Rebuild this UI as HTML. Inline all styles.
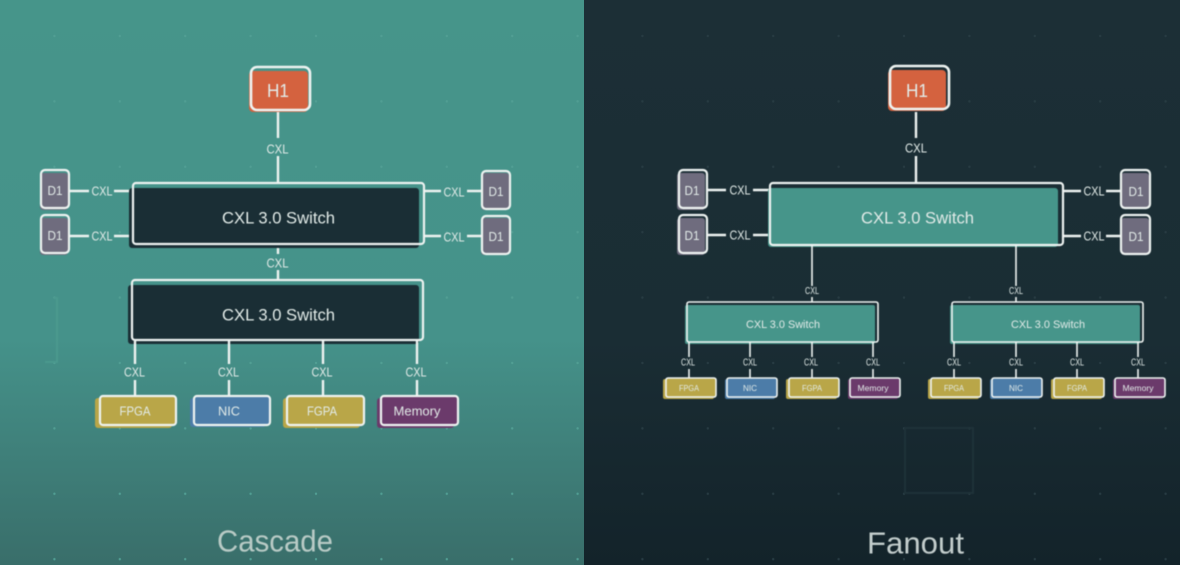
<!DOCTYPE html>
<html><head><meta charset="utf-8"><style>
html,body{margin:0;padding:0;width:1180px;height:565px;overflow:hidden;background:#1b2e35}
svg{display:block}
g.b{filter:blur(.45px)}
text{font-family:"Liberation Sans",sans-serif;fill:#e2ebe8;text-anchor:middle;dominant-baseline:central}
.o{fill:none;stroke:#eef3f1;stroke-width:2.2}
.l{stroke:#eef3f1;stroke-width:2.4;fill:none}
.s{stroke:#eef3f1;stroke-width:1.6;fill:none}
.c{font-size:13px}.m{font-size:10px}
</style></head><body>
<svg width="1180" height="565" viewBox="0 0 1180 565" xmlns="http://www.w3.org/2000/svg">
<defs>
<linearGradient id="gl" x1="0" y1="0" x2="0" y2="1"><stop offset="0" stop-color="#46958a"/><stop offset=".6" stop-color="#45928a"/><stop offset="1" stop-color="#396e6a"/></linearGradient>
<linearGradient id="gr" x1="0" y1="0" x2="0" y2="1"><stop offset="0" stop-color="#1c2f36"/><stop offset=".6" stop-color="#1a2d34"/><stop offset="1" stop-color="#13232a"/></linearGradient>
<pattern id="dl" width="65.4" height="65.4" patternUnits="userSpaceOnUse" x="-11" y="36"><circle cx="0" cy="0" r="1.2" fill="#519e93"/><circle cx="65.4" cy="0" r="1.2" fill="#519e93"/><circle cx="0" cy="65.4" r="1.2" fill="#519e93"/><circle cx="65.4" cy="65.4" r="1.2" fill="#519e93"/></pattern>
<pattern id="dr" width="65.4" height="65.4" patternUnits="userSpaceOnUse" x="577" y="36"><circle cx="0" cy="0" r="1.2" fill="#273b42"/><circle cx="65.4" cy="0" r="1.2" fill="#273b42"/><circle cx="0" cy="65.4" r="1.2" fill="#273b42"/><circle cx="65.4" cy="65.4" r="1.2" fill="#273b42"/></pattern>
</defs>
<rect x="0" y="0" width="584" height="565" fill="url(#gl)"/>
<rect x="584" y="0" width="596" height="565" fill="url(#gr)"/>
<rect x="0" y="0" width="584" height="565" fill="url(#dl)"/>
<rect x="584" y="0" width="596" height="565" fill="url(#dr)"/>
<g class="b">
<path d="M54 298H57V362H45" fill="none" stroke="#4b998e" stroke-width="2"/>
<path d="M905 428H973V493H905Z" fill="none" stroke="#1f3239" stroke-width="2"/>

<!-- LEFT -->
<rect x="249" y="71" width="59" height="41" rx="4" fill="#d4623f"/>
<rect x="251" y="67" width="59" height="43" rx="6" class="o" style="stroke-width:2.6"/>
<text x="278" y="91" font-size="18" textLength="22" lengthAdjust="spacingAndGlyphs">H1</text>
<path class="l" d="M278 112V138M278 156V183M278 245V254M278 270V280"/>
<text x="277.500" y="149" class="c" textLength="22" lengthAdjust="spacingAndGlyphs">CXL</text>
<text x="277.500" y="263" class="c" textLength="22" lengthAdjust="spacingAndGlyphs">CXL</text>

<rect x="40" y="173" width="28" height="37" rx="3" fill="#6f6c7e"/>
<rect x="41" y="170" width="28" height="38" rx="4" class="o"/>
<text x="55" y="191" font-size="12.500" textLength="15" lengthAdjust="spacingAndGlyphs">D1</text>
<rect x="40" y="218" width="28" height="37" rx="3" fill="#6f6c7e"/>
<rect x="41" y="215" width="28" height="38" rx="4" class="o"/>
<text x="55" y="236" font-size="12.500" textLength="15" lengthAdjust="spacingAndGlyphs">D1</text>
<path class="l" d="M70 191H89M114 191H133M70 236H89M114 236H133"/>
<text x="102" y="191" class="c" textLength="21" lengthAdjust="spacingAndGlyphs">CXL</text>
<text x="102" y="236" class="c" textLength="21" lengthAdjust="spacingAndGlyphs">CXL</text>

<rect x="481" y="173" width="28" height="37" rx="3" fill="#6f6c7e"/>
<rect x="482" y="171" width="28" height="38" rx="4" class="o"/>
<text x="496" y="192" font-size="12.500" textLength="15" lengthAdjust="spacingAndGlyphs">D1</text>
<rect x="481" y="218" width="28" height="37" rx="3" fill="#6f6c7e"/>
<rect x="482" y="216" width="28" height="38" rx="4" class="o"/>
<text x="496" y="237" font-size="12.500" textLength="15" lengthAdjust="spacingAndGlyphs">D1</text>
<path class="l" d="M425 191H441M467 191H481M425 236H441M467 236H481"/>
<text x="454" y="192" class="c" textLength="21" lengthAdjust="spacingAndGlyphs">CXL</text>
<text x="454" y="237" class="c" textLength="21" lengthAdjust="spacingAndGlyphs">CXL</text>

<rect x="129" y="188" width="290" height="60" rx="3" fill="#1a2e35"/>
<rect x="133" y="183" width="291" height="61" rx="3" class="o"/>
<text x="278.500" y="218" font-size="17" textLength="113" lengthAdjust="spacingAndGlyphs">CXL 3.0 Switch</text>

<rect x="128" y="285" width="291" height="59" rx="3" fill="#1a2e35"/>
<rect x="132" y="280" width="291" height="60" rx="3" class="o"/>
<text x="278.500" y="315" font-size="17" textLength="113" lengthAdjust="spacingAndGlyphs">CXL 3.0 Switch</text>

<path class="l" d="M135 341V364M135 380V396M229 341V364M229 380V396M323 341V364M323 380V396M417 341V364M417 380V396"/>
<text x="134.500" y="372" class="c" textLength="21" lengthAdjust="spacingAndGlyphs">CXL</text>
<text x="228.500" y="372" class="c" textLength="21" lengthAdjust="spacingAndGlyphs">CXL</text>
<text x="322" y="372" class="c" textLength="21" lengthAdjust="spacingAndGlyphs">CXL</text>
<text x="416" y="372" class="c" textLength="21" lengthAdjust="spacingAndGlyphs">CXL</text>

<rect x="95" y="398" width="77" height="30" rx="3" fill="#b9a648"/>
<rect x="100" y="396" width="76" height="29" rx="3" fill="#b9a648"/>
<rect x="100" y="396" width="76" height="29" rx="3" class="o"/>
<text x="135" y="411" font-size="13" textLength="31" lengthAdjust="spacingAndGlyphs">FPGA</text>
<rect x="190" y="398" width="76" height="29" rx="3" fill="#4c7ca8"/>
<rect x="194" y="396" width="76" height="29" rx="3" fill="#4c7ca8"/>
<rect x="194" y="396" width="76" height="29" rx="3" class="o"/>
<text x="229" y="411" font-size="13" textLength="22" lengthAdjust="spacingAndGlyphs">NIC</text>
<rect x="283" y="398" width="77" height="30" rx="3" fill="#b9a648"/>
<rect x="287" y="396" width="77" height="29" rx="3" fill="#b9a648"/>
<rect x="287" y="396" width="77" height="29" rx="3" class="o"/>
<text x="322" y="411" font-size="13" textLength="30" lengthAdjust="spacingAndGlyphs">FGPA</text>
<rect x="377" y="398" width="77" height="30" rx="3" fill="#6b3a6b"/>
<rect x="381" y="396" width="77" height="29" rx="3" fill="#6b3a6b"/>
<rect x="381" y="396" width="77" height="29" rx="3" class="o"/>
<text x="417" y="411" font-size="13" textLength="47" lengthAdjust="spacingAndGlyphs">Memory</text>

<text x="275" y="541" font-size="31" style="fill:#b9cbc6" textLength="116" lengthAdjust="spacingAndGlyphs">Cascade</text>

<!-- RIGHT -->
<rect x="888" y="70" width="58" height="41" rx="4" fill="#d4623f"/>
<rect x="890" y="66" width="59" height="43" rx="6" class="o" style="stroke-width:2.6"/>
<text x="917" y="91" font-size="18" textLength="22" lengthAdjust="spacingAndGlyphs">H1</text>
<path class="l" d="M916 112V138M916 156V183"/>
<text x="916" y="148" class="c" textLength="22" lengthAdjust="spacingAndGlyphs">CXL</text>

<rect x="677" y="173" width="28" height="37" rx="3" fill="#6f6c7e"/>
<rect x="679" y="170" width="28" height="38" rx="4" class="o"/>
<text x="692" y="191" font-size="12.500" textLength="15" lengthAdjust="spacingAndGlyphs">D1</text>
<rect x="677" y="218" width="28" height="37" rx="3" fill="#6f6c7e"/>
<rect x="679" y="215" width="28" height="38" rx="4" class="o"/>
<text x="692" y="236" font-size="12.500" textLength="15" lengthAdjust="spacingAndGlyphs">D1</text>
<path class="l" d="M708 190H726M753 190H770M708 235H726M753 235H770"/>
<text x="740" y="190" class="c" textLength="21" lengthAdjust="spacingAndGlyphs">CXL</text>
<text x="740" y="235" class="c" textLength="21" lengthAdjust="spacingAndGlyphs">CXL</text>

<rect x="1121" y="173" width="28" height="36" rx="3" fill="#6f6c7e"/>
<rect x="1121" y="170" width="29" height="38" rx="4" class="o"/>
<text x="1136" y="192" font-size="12.500" textLength="15" lengthAdjust="spacingAndGlyphs">D1</text>
<rect x="1121" y="218" width="28" height="37" rx="3" fill="#6f6c7e"/>
<rect x="1121" y="215" width="29" height="39" rx="4" class="o"/>
<text x="1136" y="237" font-size="12.500" textLength="15" lengthAdjust="spacingAndGlyphs">D1</text>
<path class="l" d="M1064 191H1081M1106 191H1120M1064 236H1081M1106 236H1120"/>
<text x="1094" y="191" class="c" textLength="21" lengthAdjust="spacingAndGlyphs">CXL</text>
<text x="1094" y="236" class="c" textLength="21" lengthAdjust="spacingAndGlyphs">CXL</text>

<rect x="768" y="188" width="290" height="59" rx="3" fill="#46958a"/>
<rect x="770" y="183" width="293" height="62" rx="3" class="o"/>
<text x="917.500" y="218" font-size="17" textLength="113" lengthAdjust="spacingAndGlyphs">CXL 3.0 Switch</text>

<path class="s" d="M812 245V286M812 297V302M1016 245V286M1016 297V302"/>
<text x="812" y="291.500" class="m" textLength="14" lengthAdjust="spacingAndGlyphs">CXL</text>
<text x="1016" y="291.500" class="m" textLength="14" lengthAdjust="spacingAndGlyphs">CXL</text>

<rect x="685" y="305" width="190" height="39" rx="2" fill="#46958a"/>
<rect x="687" y="302" width="191" height="40" rx="2" class="s"/>
<text x="783" y="325" font-size="11" textLength="74" lengthAdjust="spacingAndGlyphs">CXL 3.0 Switch</text>
<rect x="950" y="305" width="190" height="39" rx="2" fill="#46958a"/>
<rect x="952" y="302" width="191" height="40" rx="2" class="s"/>
<text x="1048" y="325" font-size="11" textLength="74" lengthAdjust="spacingAndGlyphs">CXL 3.0 Switch</text>

<path class="s" d="M689 342V357M689 369V378M750 342V357M750 369V378M812 342V357M812 369V378M873 342V357M873 369V378M954 342V357M954 369V378M1016 342V357M1016 369V378M1077 342V357M1077 369V378M1138 342V357M1138 369V378"/>
<g class="m">
<text x="688" y="363" textLength="14" lengthAdjust="spacingAndGlyphs">CXL</text>
<text x="750" y="363" textLength="14" lengthAdjust="spacingAndGlyphs">CXL</text>
<text x="811" y="363" textLength="14" lengthAdjust="spacingAndGlyphs">CXL</text>
<text x="873" y="363" textLength="14" lengthAdjust="spacingAndGlyphs">CXL</text>
<text x="954" y="363" textLength="14" lengthAdjust="spacingAndGlyphs">CXL</text>
<text x="1016" y="363" textLength="14" lengthAdjust="spacingAndGlyphs">CXL</text>
<text x="1077" y="363" textLength="14" lengthAdjust="spacingAndGlyphs">CXL</text>
<text x="1138" y="363" textLength="14" lengthAdjust="spacingAndGlyphs">CXL</text>
</g>

<rect x="663" y="379" width="51" height="20" rx="2" fill="#b9a648"/><rect x="666" y="378" width="50" height="19" rx="2" fill="#b9a648"/><rect x="666" y="378" width="50" height="19" rx="2" class="s"/>
<text x="689" y="388" font-size="8.500" textLength="20" lengthAdjust="spacingAndGlyphs">FPGA</text>
<rect x="725" y="379" width="50" height="20" rx="2" fill="#4c7ca8"/><rect x="727" y="378" width="50" height="19" rx="2" fill="#4c7ca8"/><rect x="727" y="378" width="50" height="19" rx="2" class="s"/>
<text x="750" y="388" font-size="8.500" textLength="14" lengthAdjust="spacingAndGlyphs">NIC</text>
<rect x="786" y="379" width="51" height="20" rx="2" fill="#b9a648"/><rect x="789" y="378" width="50" height="19" rx="2" fill="#b9a648"/><rect x="789" y="378" width="50" height="19" rx="2" class="s"/>
<text x="812" y="388" font-size="8.500" textLength="20" lengthAdjust="spacingAndGlyphs">FGPA</text>
<rect x="848" y="379" width="50" height="20" rx="2" fill="#6b3a6b"/><rect x="850" y="378" width="50" height="19" rx="2" fill="#6b3a6b"/><rect x="850" y="378" width="50" height="19" rx="2" class="s"/>
<text x="873" y="388" font-size="8.500" textLength="31" lengthAdjust="spacingAndGlyphs">Memory</text>

<rect x="928" y="379" width="51" height="20" rx="2" fill="#b9a648"/><rect x="931" y="378" width="50" height="19" rx="2" fill="#b9a648"/><rect x="931" y="378" width="50" height="19" rx="2" class="s"/>
<text x="954" y="388" font-size="8.500" textLength="20" lengthAdjust="spacingAndGlyphs">FPGA</text>
<rect x="990" y="379" width="50" height="20" rx="2" fill="#4c7ca8"/><rect x="992" y="378" width="50" height="19" rx="2" fill="#4c7ca8"/><rect x="992" y="378" width="50" height="19" rx="2" class="s"/>
<text x="1016" y="388" font-size="8.500" textLength="14" lengthAdjust="spacingAndGlyphs">NIC</text>
<rect x="1051" y="379" width="51" height="20" rx="2" fill="#b9a648"/><rect x="1054" y="378" width="50" height="19" rx="2" fill="#b9a648"/><rect x="1054" y="378" width="50" height="19" rx="2" class="s"/>
<text x="1077" y="388" font-size="8.500" textLength="20" lengthAdjust="spacingAndGlyphs">FGPA</text>
<rect x="1113" y="379" width="50" height="20" rx="2" fill="#6b3a6b"/><rect x="1115" y="378" width="50" height="19" rx="2" fill="#6b3a6b"/><rect x="1115" y="378" width="50" height="19" rx="2" class="s"/>
<text x="1138" y="388" font-size="8.500" textLength="31" lengthAdjust="spacingAndGlyphs">Memory</text>

<text x="915.500" y="543" font-size="31" style="fill:#c3cdcc" textLength="97" lengthAdjust="spacingAndGlyphs">Fanout</text>
</g>
</svg>
</body></html>
